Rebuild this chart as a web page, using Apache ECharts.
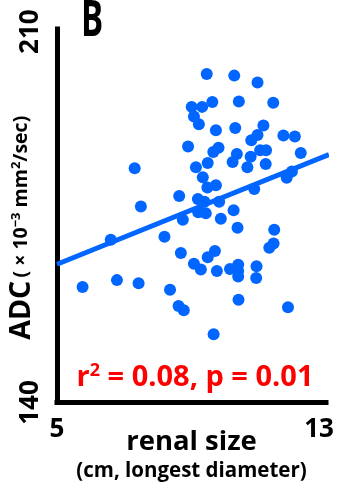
<!DOCTYPE html>
<html>
<head>
<meta charset="utf-8">
<script src="https://cdn.jsdelivr.net/npm/echarts@6/dist/echarts.min.js"></script>
<style>
html,body{margin:0;padding:0;background:#fff;}
#chart{width:337px;height:488px;}
</style>
</head>
<body>
<div id="chart"></div>
<script>
// renal size (cm)
var renalSize = [9.57,10.41,11.12,9.74,10.55,11.60,9.11,9.43,9.18,9.33,9.85,10.44,11.30,11.12,10.93,11.91,12.26,9.00,9.93,9.77,10.49,10.36,11.20,11.38,10.91,12.44,9.60,9.24,10.81,11.37,7.37,9.45,9.59,9.85,11.02,12.01,12.17,8.73,9.30,9.50,9.95,7.56,10.39,9.31,9.54,8.84,10.00,10.51,11.63,6.64,8.28,11.61,11.48,8.78,9.82,9.60,9.18,9.39,9.88,10.28,10.53,10.53,10.53,11.09,11.08,5.78,6.83,7.49,8.45,10.54,8.71,8.87,12.05,9.78];
// ADC (x10^-3 mm2/sec)
var adc = [202.0,201.7,200.4,196.7,196.8,196.6,195.8,195.8,194.0,192.5,191.4,191.8,192.3,190.5,189.5,190.4,190.2,188.3,188.1,187.3,186.9,185.4,187.6,187.6,186.4,187.1,185.2,184.4,184.4,185.0,184.2,182.5,180.6,181.0,180.3,182.4,183.6,179.0,178.4,177.9,177.9,177.0,176.3,175.9,175.7,174.5,174.7,173.0,172.6,170.7,171.3,170.0,169.2,168.2,168.6,167.4,166.2,165.1,164.8,165.2,166.0,164.8,163.8,165.7,163.5,161.8,163.1,162.5,161.3,159.4,158.2,157.4,158.0,152.9];
// regression line endpoints
var fitX = [5, 13.3];
var fitY = [166.1, 186.8];
var xTicks = [5, 13];
var yTicks = [140, 210];

var points = renalSize.map(function(x, i){ return [x, adc[i]]; });
var fitLine = fitX.map(function(x, i){ return [x, fitY[i]]; });

var FONT = '"Open Sans", "Noto Sans", sans-serif';
var BLUE = '#0066ff';

var chart = echarts.init(document.getElementById('chart'), null, {renderer:'canvas'});
chart.setOption({
  animation: false,
  backgroundColor: '#fff',
  grid: {left: 57, right: 11, top: 29, bottom: 85.5, containLabel: false, outerBoundsMode: 'none'},
  xAxis: {
    type: 'value', min: 5, max: 13.21,
    splitLine: {show: false},
    axisTick: {show: false},
    axisLine: {show: true, onZero: false, lineStyle: {color: '#000', width: 5, cap: 'square'}},
    axisLabel: {customValues: xTicks, color: '#000', fontFamily: FONT, fontWeight: 'bold', fontSize: 26, margin: 14},
    name: '{a|renal size}\n{b|(cm, longest diameter)}',
    nameLocation: 'middle',
    nameMoveOverlap: false,
    nameGap: 25,
    nameTextStyle: {
      rich: {
        a: {fontFamily: FONT, fontWeight: 'bold', fontSize: 27.5, color: '#000', lineHeight: 30, align: 'center'},
        b: {fontFamily: FONT, fontWeight: 'bold', fontSize: 20.5, color: '#000', lineHeight: 27, align: 'center'}
      }
    }
  },
  yAxis: {
    type: 'value', min: 140, max: 210.5,
    splitLine: {show: false},
    axisTick: {show: false},
    axisLine: {show: true, onZero: false, lineStyle: {color: '#000', width: 5, cap: 'square'}},
    axisLabel: {customValues: yTicks, rotate: 90, color: '#000', fontFamily: FONT, fontWeight: 'bold', fontSize: 26, margin: 13},
    name: '{a|ADC} {b|( × 10}{c|−3}{b| mm}{c|2}{b|/sec)}',
    nameLocation: 'middle',
    nameMoveOverlap: false,
    nameGap: 21,
    nameTextStyle: {
      padding: [0, 24, 0, 0],
      rich: {
        a: {fontFamily: FONT, fontWeight: 'bold', fontSize: 28.5, color: '#000'},
        b: {fontFamily: FONT, fontWeight: 'bold', fontSize: 19.5, color: '#000'},
        c: {fontFamily: FONT, fontWeight: 'bold', fontSize: 13, color: '#000', padding: [0,0,10,0]}
      }
    }
  },
  graphic: [
    {type: 'text', x: 81, y: -3, scaleX: 0.66, style: {text: 'B', font: 'bold 50px ' + FONT, fill: '#000', textVerticalAlign: 'top'}},
    {type: 'text', x: 195, y: 378, style: {
      text: '{a|r}{s|2}{a| = 0.08, p = 0.01}',
      textAlign: 'center', textVerticalAlign: 'middle',
      rich: {
        a: {fontFamily: FONT, fontWeight: 'bold', fontSize: 29, fill: '#ff0000', color: '#ff0000'},
        s: {fontFamily: FONT, fontWeight: 'bold', fontSize: 18, fill: '#ff0000', color: '#ff0000', padding: [0,0,14,0]}
      }
    }}
  ],
  series: [
    {
      type: 'scatter', data: points, symbolSize: 12,
      itemStyle: {color: BLUE, opacity: 1}, z: 3
    },
    {
      type: 'line', data: fitLine, symbol: 'none', clip: false,
      lineStyle: {color: BLUE, width: 5}, z: 4
    }
  ]
});
</script>
</body>
</html>
